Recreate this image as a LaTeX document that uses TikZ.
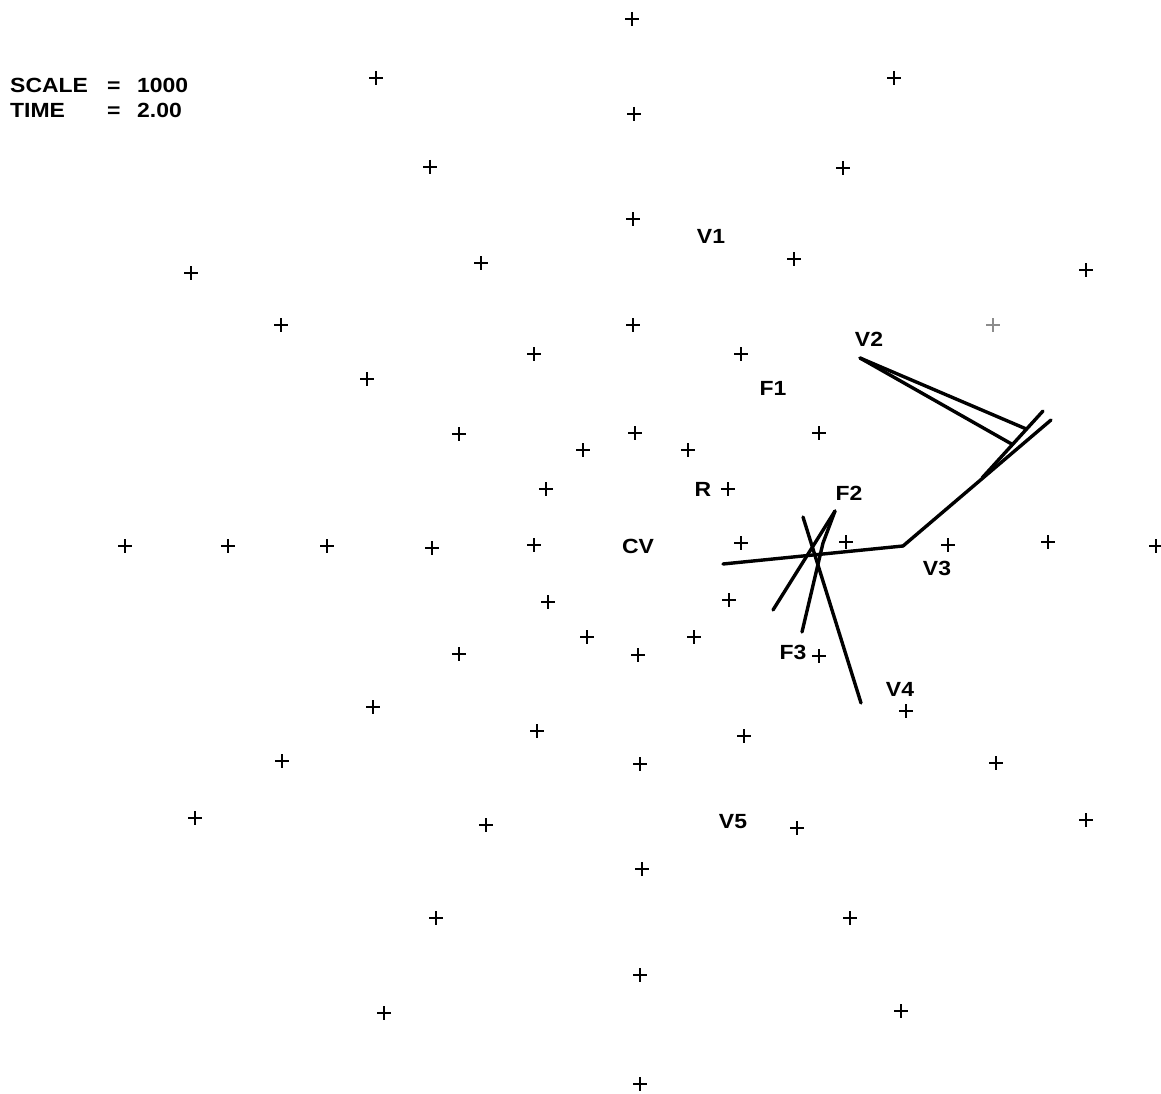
\documentclass[tikz,border=0pt]{standalone}
\usepackage{fontspec}
\usetikzlibrary{calc}
\setmainfont{Liberation Sans}
\newfontfamily\plotfont[FakeStretch=1.12]{Liberation Sans}
\begin{document}
\begin{tikzpicture}[x=1pt,y=-1pt,
  pm/.style={minimum size=14pt, inner sep=0pt, outer sep=0pt,
    path picture={\draw[line width=1.4pt] (path picture bounding box.north) -- (path picture bounding box.south)
      (path picture bounding box.west) -- (path picture bounding box.east);}},
  faint/.style={pm, opacity=0.45},
  lbl/.style={font=\plotfont\fontsize{20.5}{23}\selectfont\bfseries, inner sep=0pt},
  hdr/.style={font=\plotfont\fontsize{20.5}{23}\selectfont\bfseries, inner sep=0pt, anchor=base west},
  trace/.style={line width=3.4pt, line join=miter, line cap=round}]
\useasboundingbox[fill=white] (0,0) rectangle (1161,1094);
% header
\node[hdr] (sc) at (10,93) {SCALE};
\node[hdr] (sce) at (107,93) {=};
\node[hdr] (scv) at (137,93) {1000};
\node[hdr] (tm) at (10,118) {TIME};
\node[hdr] (tme) at (107,118) {=};
\node[hdr] (tmv) at (137,118) {2.00};
% labels
\node[lbl] (V1) at (711,236) {V1};
\node[lbl] (V2) at (869,339) {V2};
\node[lbl] (F1) at (773,388) {F1};
\node[lbl] (R) at (703,489) {R};
\node[lbl] (F2) at (849,493) {F2};
\node[lbl] (CV) at (638,546) {CV};
\node[lbl] (V3) at (937,568) {V3};
\node[lbl] (F3) at (793,652) {F3};
\node[lbl] (V4) at (900,689) {V4};
\node[lbl] (V5) at (733,822) {V5};
% plus markers
\foreach \x/\y [count=\i] in {632/19, 376/78, 894/78, 634/114, 430/167, 843/168, 633/219, 481/263, 794/259, 191/273, 1086/270, 281/325, 633/325, 534/354, 741/354, 367/379, 459/434, 635/433, 819/433, 583/450, 688/450, 546/489, 728/489, 125/546, 228/546, 327/546, 432/548, 534/545, 741/543, 846/542, 948/545, 1048/542, 1156/546, 548/602, 729/600, 587/637, 694/637, 459/654, 638/655, 819/656, 373/707, 537/731, 906/711, 744/736, 282/761, 640/764, 996/763, 195/818, 486/825, 797/828, 1086/820, 642/869, 436/918, 850/918, 640/975, 384/1013, 901/1011, 640/1084}
  \node[pm] (p\i) at (\x,\y) {};
\node[faint] (pf) at (993,325) {};
% trace endpoints
\coordinate (a0) at (860,358);
\coordinate (g0) at (1043,411);
\coordinate (g1) at (982,478);
\coordinate (a1) at ($(g0)!0.27!(g1)$);
\coordinate (b1) at ($(g0)!0.5!(g1)$);
\coordinate (c0) at (723,564);
\coordinate (c1) at (903,546);
\coordinate (c2) at (1051,420);
\coordinate (d0) at (835,511);
\coordinate (d1) at (773,610);
\coordinate (e1) at (823,543);
\coordinate (e2) at (802,632);
\coordinate (f0) at (803,517);
\coordinate (f1) at (861,703);
% traces
\draw[trace] (a0) -- (a1);
\draw[trace] (a0) -- (b1);
\draw[trace] (g0) -- (g1);
\draw[trace] (c0) -- (c1) -- (c2);
\draw[trace] (d0) -- (d1);
\draw[trace] (d0) -- (e1) -- (e2);
\draw[trace] (f0) -- (f1);
\end{tikzpicture}
\end{document}
